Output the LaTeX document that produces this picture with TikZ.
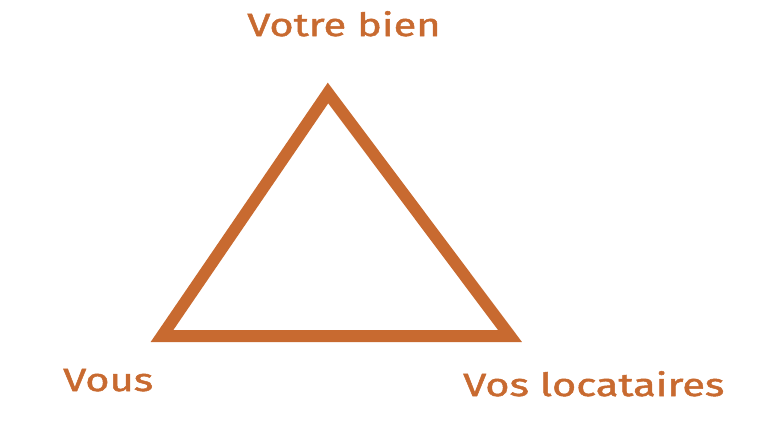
\documentclass[tikz,border=0pt]{standalone}
\usepackage{fontspec}
\setmainfont{Fira Sans}[FakeStretch=1.3, FakeBold=1.6]
\begin{document}
\begin{tikzpicture}[x=1pt, y=-1pt]
\definecolor{rouille}{RGB}{200,106,48}
\tikzset{etiquette/.style={text=rouille, font=\fontsize{32}{32}\selectfont, inner sep=0pt}}

\useasboundingbox (0, 0) rectangle (768, 445);

\coordinate (bien) at (328, 93);
\coordinate (vous) at (162, 336);
\coordinate (locataires) at (510, 336);

\draw[rouille, line width=12pt, line join=miter] (bien) -- (vous) -- (locataires) -- cycle;

\node[etiquette, anchor=base] (tbien) at (344, 36) {Votre bien};
\node[etiquette, anchor=base west] (tvous) at (63, 391) {Vous};
\node[etiquette, anchor=base west] (tlocataires) at (463, 396) {Vos locataires};

\end{tikzpicture}
\end{document}
